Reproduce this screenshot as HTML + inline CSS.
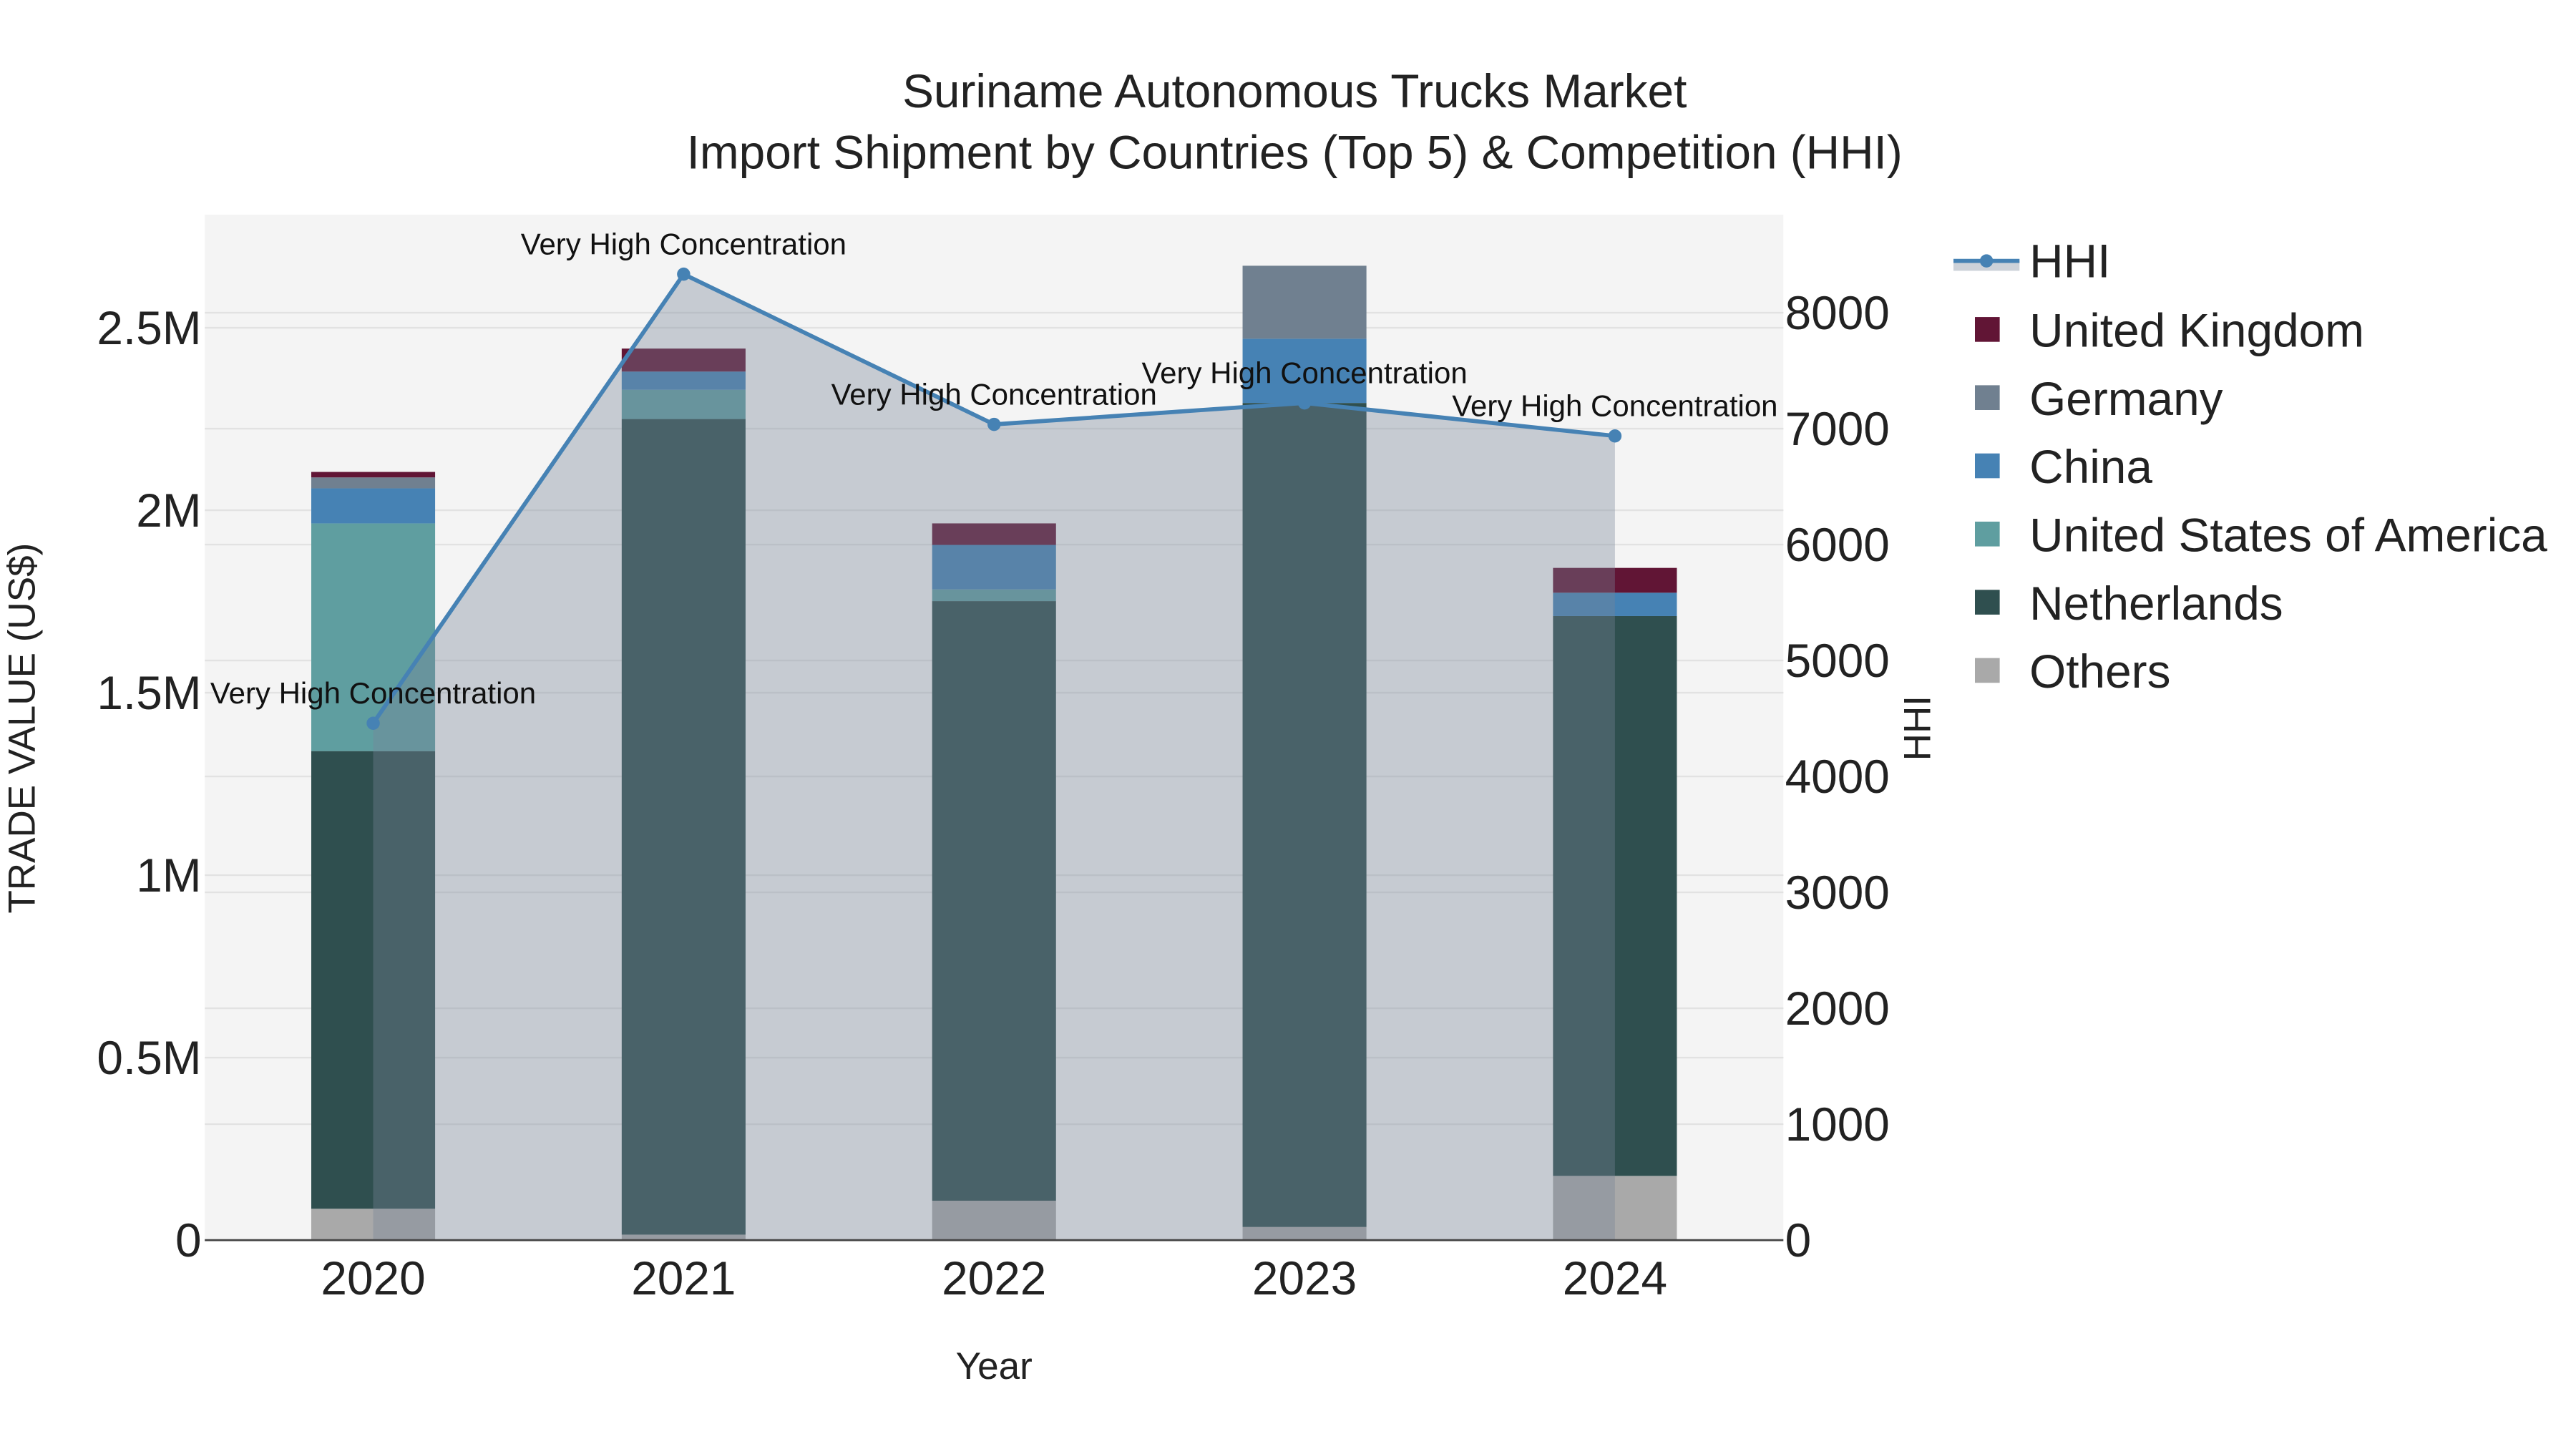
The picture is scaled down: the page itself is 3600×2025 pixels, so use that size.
<!DOCTYPE html>
<html><head><meta charset="utf-8"><style>
html,body{margin:0;padding:0;background:#fff;}
svg{display:block;font-family:"Liberation Sans",Arial,sans-serif;}
</style></head><body>
<svg id="chart" width="3600" height="2025" viewBox="0 0 1560 877.5" xmlns="http://www.w3.org/2000/svg">
<rect x="0" y="0" width="1560" height="877.5" fill="#fff"/>
<rect x="124" y="130" width="956" height="621" fill="#f4f4f4"/>
<g id="grid"></g>
<g id="bars"></g>
<g id="hhi"></g>
<g id="axes"></g>
<text x="784" y="65" font-size="28.5" text-anchor="middle" fill="#222">Suriname Autonomous Trucks Market</text>
<text x="784" y="102" font-size="28.5" text-anchor="middle" fill="#222">Import Shipment by Countries (Top 5) &amp; Competition (HHI)</text>
<text transform="translate(21,441) rotate(-90)" font-size="23" text-anchor="middle" fill="#222">TRADE VALUE (US$)</text>
<text transform="translate(1169,441) rotate(-90)" font-size="23" text-anchor="middle" fill="#222">HHI</text>
<text x="602" y="835" font-size="23" text-anchor="middle" fill="#222">Year</text>
<g id="legend"></g>
</svg>
<script>
const years = ["2020","2021","2022","2023","2024"];
const others = [0.086, 0.015, 0.108, 0.036, 0.176];
const netherlands = [1.254, 2.235, 1.643, 2.258, 1.534];
const usa = [0.624, 0.08, 0.032, 0, 0];
const china = [0.096, 0.05, 0.122, 0.176, 0.064];
const germany = [0.03, 0, 0, 0.2, 0];
const uk = [0.015, 0.063, 0.059, 0, 0.068];
const hhi = [4459, 8333, 7037, 7222, 6937];
const hhiLabels = ["Very High Concentration","Very High Concentration","Very High Concentration","Very High Concentration","Very High Concentration"];
const leftTicks = [0, 0.5, 1, 1.5, 2, 2.5];
const leftTickLabels = ["0","0.5M","1M","1.5M","2M","2.5M"];
const rightTicks = [0,1000,2000,3000,4000,5000,6000,7000,8000];

const NS="http://www.w3.org/2000/svg";
function mk(tag, attrs, parent){const e=document.createElementNS(NS,tag);for(const k in attrs)e.setAttribute(k,attrs[k]);parent.appendChild(e);return e;}
const X0=124,X1=1080,Y0=751;
function xC(i){return 226+i*188;}
function yL(v){return Y0 - v*221;}
function yR(v){return Y0 - v*0.0702;}
const grid=document.getElementById('grid'), bars=document.getElementById('bars'), hg=document.getElementById('hhi'), ax=document.getElementById('axes');

leftTicks.forEach((t,i)=>{
  if(t>0){const l=mk('line',{x1:X0,x2:X1,y1:yL(t),y2:yL(t),stroke:'#e2e2e2','stroke-width':1},grid);
  
  }
  const tx=mk('text',{x:X0-2,y:yL(t)+10,'font-size':28.5,'text-anchor':'end',fill:'#222'},ax);tx.textContent=leftTickLabels[i];
  
  
});
rightTicks.forEach(t=>{
  if(t>0){const l=mk('line',{x1:X0,x2:X1,y1:yR(t),y2:yR(t),stroke:'#e2e2e2','stroke-width':1},grid);
  
  }
  const tx=mk('text',{x:X1+1,y:yR(t)+10,'font-size':28.5,fill:'#222'},ax);tx.textContent=String(t);
  
  
});
const axl=mk('line',{x1:X0,x2:X1,y1:Y0,y2:Y0,stroke:'#444','stroke-width':1.2},ax);


years.forEach((y,i)=>{
  const tx=mk('text',{x:xC(i),y:784,'font-size':28.5,'text-anchor':'middle',fill:'#222'},ax);tx.textContent=y;
  
  
});

const series=[["others",others,"#a9a9a9"],["netherlands",netherlands,"#2f4f4f"],["usa",usa,"#5f9ea0"],["china",china,"#4682b4"],["germany",germany,"#708090"],["uk",uk,"#611535"]];
const BW=75;
years.forEach((y,i)=>{
  let base=0;
  series.forEach(([n,arr,c])=>{
    const v=arr[i]; if(v<=0) return;
    const r=mk('rect',{x:xC(i)-BW/2,y:yL(base+v),width:BW,height:yL(base)-yL(base+v),fill:c},bars);
    
    
    base+=v;
  });
});

let area='M'+xC(0)+','+Y0;
hhi.forEach((v,i)=>{area+=' L'+xC(i)+','+yR(v);});
area+=' L'+xC(hhi.length-1)+','+Y0+' Z';
const ar=mk('path',{d:area,fill:'rgba(120,132,152,0.37)'},hg);


const pl=mk('polyline',{points:hhi.map((v,i)=>xC(i)+','+yR(v)).join(' '),fill:'none',stroke:'#4682b4','stroke-width':2.5},hg);


hhi.forEach((v,i)=>{
  const c=mk('circle',{cx:xC(i),cy:yR(v),r:4,fill:'#4682b4'},hg);
  
  
  const t=mk('text',{x:xC(i),y:yR(v)-12,'font-size':18.2,'text-anchor':'middle',fill:'#111'},hg);t.textContent=hhiLabels[i];
  
  
});

const lg=document.getElementById('legend');
const ls=mk('rect',{x:1183,y:158,width:40,height:6,fill:'rgba(120,132,152,0.37)'},lg);


const ll=mk('line',{x1:1183,x2:1223,y1:158,y2:158,stroke:'#4682b4','stroke-width':2.5},lg);


const lc=mk('circle',{cx:1203,cy:158,r:4,fill:'#4682b4'},lg);


const lt=mk('text',{x:1229,y:168,'font-size':28.5,fill:'#222'},lg);lt.textContent='HHI';


const legItems=[["United Kingdom","#611535"],["Germany","#708090"],["China","#4682b4"],["United States of America","#5f9ea0"],["Netherlands","#2f4f4f"],["Others","#a9a9a9"]];
legItems.forEach(([n,c],k)=>{
  const cy=200+k*41.3;
  const r=mk('rect',{x:1196,y:cy-8,width:15,height:15,fill:c},lg);
  
  
  const t=mk('text',{x:1229,y:cy+10,'font-size':28.5,fill:'#222'},lg);t.textContent=n;
  
  
});
</script>
</body></html>
